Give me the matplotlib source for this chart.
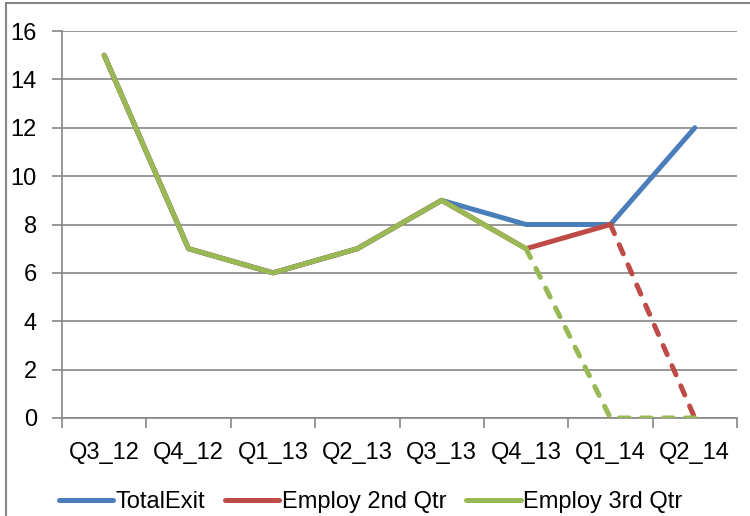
import matplotlib
matplotlib.use("Agg")
import matplotlib.pyplot as plt
from matplotlib.lines import Line2D

plt.rcParams['font.family'] = ['Liberation Sans', 'DejaVu Sans']

quarters = ['Q3_12', 'Q4_12', 'Q1_13', 'Q2_13', 'Q3_13', 'Q4_13', 'Q1_14', 'Q2_14']
total_exit = [15, 7, 6, 7, 9, 8, 8, 12]
employ_2nd = [15, 7, 6, 7, 9, 7, 8, 0]
employ_3rd = [15, 7, 6, 7, 9, 7, 0, 0]
series_names = ['TotalExit', 'Employ 2nd Qtr', 'Employ 3rd Qtr']
# index from which each series turns dashed (incomplete quarters)
dash_2nd = 6
dash_3rd = 5

blue = '#4a7ebb'
red = '#be4b48'
green = '#98b954'
grey = '#868686'

fig = plt.figure(figsize=(7.5, 5.16), dpi=100)
ax = fig.add_axes([62 / 750, 1 - 418 / 516, 675 / 750, 387 / 516])

x = list(range(len(quarters)))
lw = 3.6
dash = (0, (2.0, 2.4))
solid = dict(lw=lw, solid_capstyle='round', solid_joinstyle='round')
dashed = dict(lw=lw, ls=dash, dash_capstyle='round')

ax.plot(x, total_exit, color=blue, zorder=3, **solid)
ax.plot(x[:dash_2nd + 1], employ_2nd[:dash_2nd + 1], color=red, zorder=4, **solid)
ax.plot(x[dash_2nd:], employ_2nd[dash_2nd:], color=red, zorder=4, **dashed)
ax.plot(x[:dash_3rd + 1], employ_3rd[:dash_3rd + 1], color=green, zorder=5, **solid)
ax.plot(x[dash_3rd:], employ_3rd[dash_3rd:], color=green, zorder=5, **dashed)

ax.set_xlim(-0.5, len(quarters) - 0.5)
ax.set_ylim(0, 16)
ax.set_yticks(range(0, 17, 2))
ax.set_xticks([i - 0.5 for i in range(len(quarters) + 1)])
ax.set_xticklabels([])
ax.set_xticks(x, minor=True)
ax.set_xticklabels(quarters, minor=True)
ax.tick_params(axis='x', which='minor', length=0, labelsize=17, pad=17)
ax.tick_params(axis='x', which='major', length=7, color=grey, width=1.2, direction='out')
ax.tick_params(axis='y', length=7, color=grey, width=1.2, labelsize=17, pad=11)
ax.grid(axis='y', color=grey, lw=1.2)
ax.set_axisbelow(True)
for s in ['top', 'right']:
    ax.spines[s].set_visible(False)
for s in ['left', 'bottom']:
    ax.spines[s].set_color(grey)
    ax.spines[s].set_linewidth(1.2)

handles = [Line2D([], [], color=c, lw=lw, solid_capstyle='round') for c in (blue, red, green)]
fig.legend(handles, series_names, loc='center',
           bbox_to_anchor=(0.494, 0.027), ncol=3, frameon=False, fontsize=17,
           handlelength=2.3, handletextpad=0.1, columnspacing=0.85, borderpad=0)

# outer chart border (partly cut off in the reference)
fig.add_artist(plt.Rectangle((6 / 750, -0.1), 1.2, 1.1 - 3 / 516, transform=fig.transFigure,
                             fill=False, edgecolor=grey, lw=1.5))

fig.savefig('out.png', dpi=100)
